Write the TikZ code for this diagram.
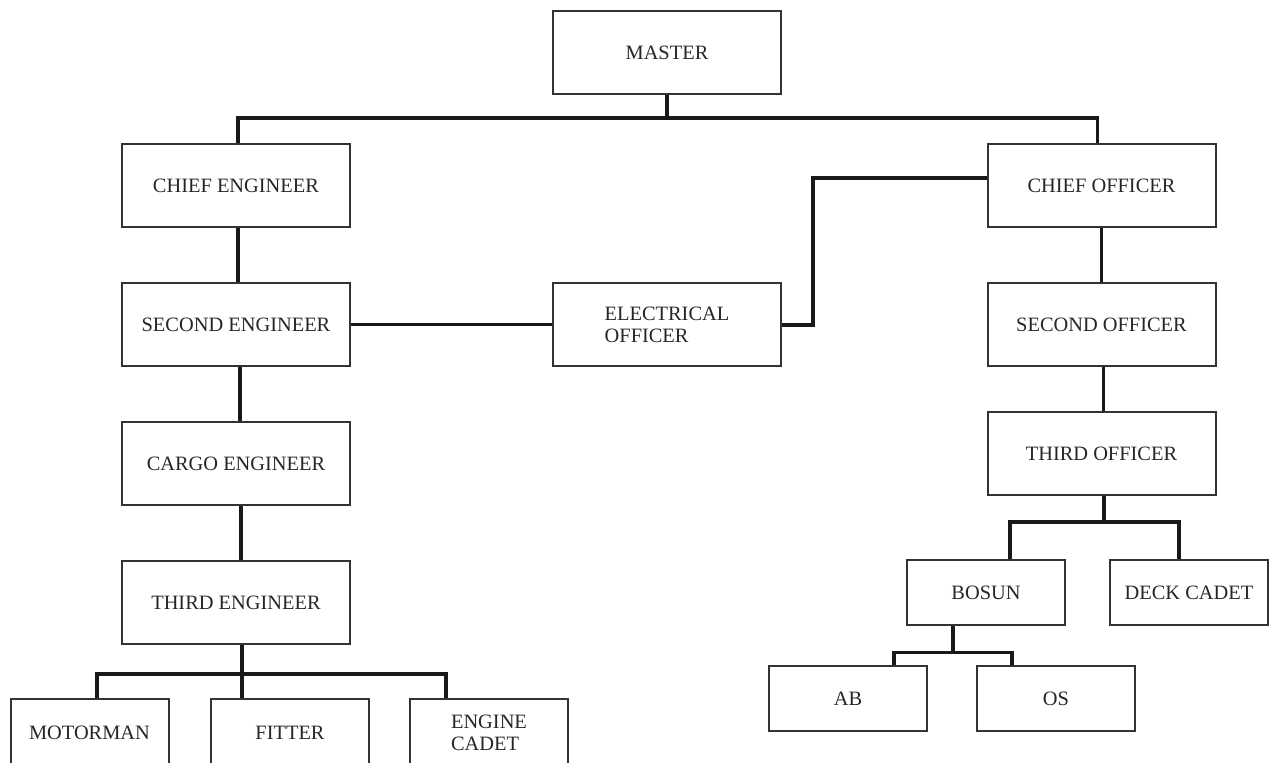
\documentclass[tikz,border=0pt]{standalone}
\usepackage{fontspec}
\setmainfont{Liberation Serif}
\usetikzlibrary{positioning}

\begin{document}
\begin{tikzpicture}[x=0.5pt, y=-0.5pt, font=\fontsize{10.2}{11}\selectfont,
  post/.style={draw=black!80, line width=1pt, text=black!85, minimum width=114pt, minimum height=41.5pt, inner sep=0pt, align=center},
  crew/.style={post, minimum width=79pt, minimum height=32.5pt},
  link/.style={draw=black!90, line width=1.6pt}]
\useasboundingbox (0,0) rectangle (1271,763);
% master and the two heads of department
\node[post] (master) at (667,52.5) {MASTER};
\node[post] (chiefeng) at (236,185.5) {CHIEF ENGINEER};
\node[post] (chiefoff) at (1101.5,185.5) {CHIEF OFFICER};
% engine side
\node[post, below=27pt of chiefeng] (secondeng) {SECOND ENGINEER};
\node[post, below=27pt of secondeng] (cargoeng) {CARGO ENGINEER};
\node[post, below=27pt of cargoeng] (thirdeng) {THIRD ENGINEER};
\node[post, align=left] (electrical) at (667,325) {ELECTRICAL\\OFFICER};
\node[crew, minimum height=33pt] (motorman) at (89.5,732.5) {MOTORMAN};
\node[crew, minimum height=33pt] (fitter) at (290,732.5) {FITTER};
\node[crew, minimum height=33pt, align=left] (cadet) at (489,732.5) {ENGINE\\CADET};
% deck side
\node[post, below=27pt of chiefoff] (secondoff) {SECOND OFFICER};
\node[post, below=22pt of secondoff] (thirdoff) {THIRD OFFICER};
\node[crew] (bosun) at (986,593) {BOSUN};
\node[crew] (deckcadet) at (1189,593) {DECK CADET};
\node[crew] (ab) at (848,698.5) {AB};
\node[crew] (os) at (1056,698.5) {OS};
% connectors
\draw[link] (master.south) -- ++(0,23) coordinate (mbus);
\draw[link] ([xshift=1pt]chiefeng.north) |- (mbus) -| ([xshift=-2pt]chiefoff.north);
\draw[link] ([xshift=1pt]chiefeng.south) -- ([xshift=1pt]secondeng.north);
\draw[link] ([xshift=2pt]secondeng.south) -- ([xshift=2pt]cargoeng.north);
\draw[link] ([xshift=2.5pt]cargoeng.south) -- ([xshift=2.5pt]thirdeng.north);
\draw[link] (secondeng.east) -- (secondeng.east -| electrical.west);
\draw[link] (electrical.east) -- ++(31,0) |- ([yshift=3.75pt]chiefoff.west);
\draw[link] ([xshift=3pt]thirdeng.south) -- ++(0,29) coordinate (ebus);
\draw[link] ([xshift=3.75pt]motorman.north) |- (ebus) -| ([xshift=-21.5pt]cadet.north);
\draw[link] (ebus) -- (ebus |- fitter.north);
\draw[link] (chiefoff.south) -- (secondoff.north);
\draw[link] ([xshift=1pt]secondoff.south) -- ([xshift=1pt]thirdoff.north);
\draw[link] ([xshift=1.25pt]thirdoff.south) -- ++(0,26) coordinate (dbus);
\draw[link] ([xshift=12pt]bosun.north) |- (dbus) -| ([xshift=-5pt]deckcadet.north);
\draw[link] ([xshift=-16.5pt]bosun.south) -- ++(0,26) coordinate (bbus);
\draw[link] ([xshift=23pt]ab.north) |- (bbus) -| ([xshift=-22pt]os.north);
\end{tikzpicture}
\end{document}
